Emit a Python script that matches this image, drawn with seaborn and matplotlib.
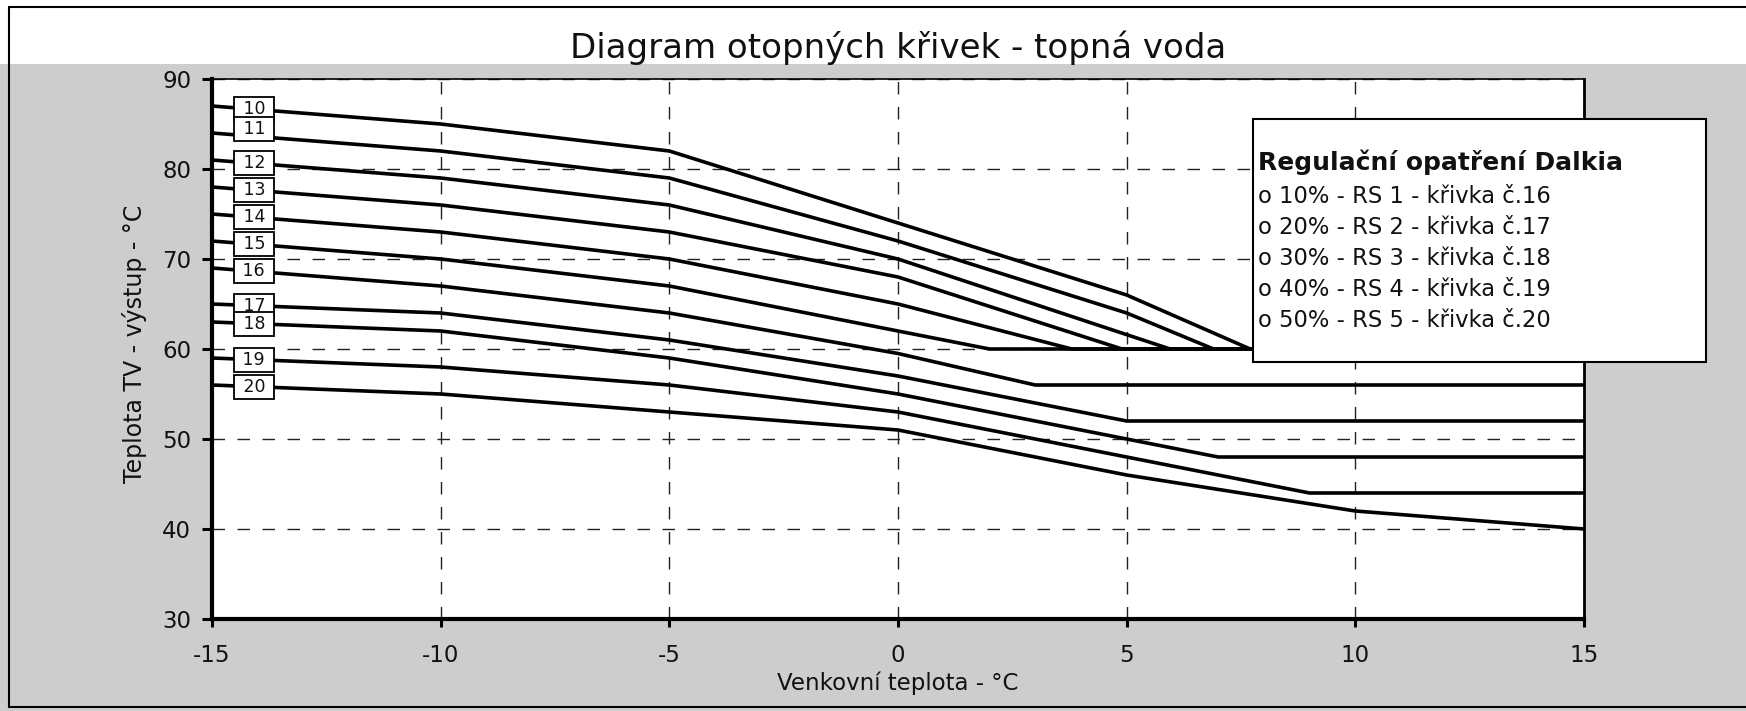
import numpy as np
import pandas as pd
import matplotlib
matplotlib.use("Agg")
import matplotlib.pyplot as plt
from matplotlib.patches import Rectangle
from matplotlib.lines import Line2D
import seaborn as sns

# heating curves 10..20, flow temperature vs outdoor temperature
curve_ids = [10, 11, 12, 13, 14, 15, 16, 17, 18, 19, 20]
outdoor_base = [-15, -10, -5, 0]
flow_base = [
    [87, 85, 82, 74],
    [84, 82, 79, 72],
    [81, 79, 76, 70],
    [78, 76, 73, 68],
    [75, 73, 70, 65],
    [72, 70, 67, 62],
    [69, 67, 64, 59.5],
    [65, 64, 61, 57],
    [63, 62, 59, 55],
    [59, 58, 56, 53],
    [56, 55, 53, 51],
]
# second part of each curve (breakpoints differ, flat part = minimum)
outdoor_tail = [
    [5, 7.7, 15],
    [5, 6.9, 15],
    [5.95, 15],
    [4.9, 15],
    [3.8, 15],
    [2, 15],
    [3, 15],
    [5, 15],
    [5, 7, 15],
    [5, 9, 15],
    [5, 10, 15],
]
flow_tail = [
    [66, 60, 60],
    [64, 60, 60],
    [60, 60],
    [60, 60],
    [60, 60],
    [60, 60],
    [56, 56],
    [52, 52],
    [50, 48, 48],
    [48, 44, 44],
    [46, 42, 40],
]
label_nudge = {11: 0.8}

tick_x = [-15, -10, -5, 0, 5, 10, 15]
tick_y = [30, 40, 50, 60, 70, 80, 90]

title = "Diagram otopných křivek - topná voda"
xlabel = "Venkovní teplota - °C"
ylabel = "Teplota TV - výstup - °C"
legend_title = "Regulační opatření Dalkia"
legend_items = [
    "o 10% - RS 1 - křivka č.16",
    "o 20% - RS 2 - křivka č.17",
    "o 30% - RS 3 - křivka č.18",
    "o 40% - RS 4 - křivka č.19",
    "o 50% - RS 5 - křivka č.20",
]

rows = []
for i, cid in enumerate(curve_ids):
    xs = outdoor_base + outdoor_tail[i]
    ys = flow_base[i] + flow_tail[i]
    for k, (x, y) in enumerate(zip(xs, ys)):
        rows.append({"curve": cid, "order": k, "outdoor": x, "flow": y})
df = pd.DataFrame(rows)

sns.set_theme(style="white")
plt.rcParams["font.family"] = ["DejaVu Sans"]
plt.rcParams["axes.unicode_minus"] = False
plt.rcParams["text.color"] = "#111111"

fig = plt.figure(figsize=(17.46, 7.11), dpi=100)
fig.patch.set_facecolor("white")
# scanned grey background around the plot
fig.add_artist(Rectangle((0, 0), 1, 0.91, transform=fig.transFigure,
                         facecolor="#cdcdcd", edgecolor="none", zorder=-10))

ax = fig.add_axes([0.1214, 0.1294, 0.7858, 0.7595])
ax.set_facecolor("white")

sns.lineplot(data=df, x="outdoor", y="flow", units="curve", estimator=None,
             sort=False, color="black", linewidth=2.6, legend=False, ax=ax)

ax.set_xlim(-15, 15)
ax.set_ylim(30, 90)
ax.set_xticks(tick_x)
ax.set_yticks(tick_y)
ax.grid(True, color="#222222", linestyle=(0, (9, 9)), linewidth=1.0)

for side, lw in [("left", 3), ("bottom", 3), ("top", 1.2), ("right", 2)]:
    ax.spines[side].set_visible(True)
    ax.spines[side].set_color("black")
    ax.spines[side].set_linewidth(lw)

ax.tick_params(axis="y", left=True, length=7, width=2.2, pad=8,
               labelsize=16.5, direction="out", colors="black", labelcolor="#111111")
ax.tick_params(axis="x", bottom=True, length=6, width=2.2, pad=12,
               labelsize=16.5, direction="out", colors="black", labelcolor="#111111")

ax.set_xlabel(xlabel, fontsize=16.5, color="#111111")
ax.xaxis.set_label_coords(0.5, -0.097)
ax.set_ylabel(ylabel, fontsize=17, color="#111111")
ax.yaxis.set_label_coords(-0.047, 0.51)

# curve number boxes near the left axis
lab_x = -14.08
for i, cid in enumerate(curve_ids):
    xs = outdoor_base + outdoor_tail[i]
    ys = flow_base[i] + flow_tail[i]
    y_lab = np.interp(lab_x, xs, ys) + label_nudge.get(cid, 0)
    ax.text(lab_x, y_lab, f" {cid} ", ha="center", va="center", fontsize=12.5,
            color="#111111", zorder=6,
            bbox=dict(boxstyle="square,pad=0.18", fc="white", ec="black", lw=1.3))

fig.text(0.5143, 0.918, title, ha="center", va="baseline", fontsize=24.5)

# legend box (text panel)
fig.add_artist(Rectangle((0.7176, 0.4909), 0.2595, 0.3417, transform=fig.transFigure,
                         facecolor="white", edgecolor="black", linewidth=1.5, zorder=5))
fig.text(0.7205, 0.761, legend_title, fontsize=18, fontweight="bold",
         va="baseline", zorder=6)
for i, item in enumerate(legend_items):
    fig.text(0.7205, 1 - (203 + 31 * i) / 711, item, fontsize=16.3,
             va="baseline", zorder=6)

# outer frame of the scan
for xs_, ys_ in [([0.005, 0.005], [0.005, 0.99]),
                 ([0.005, 1.0], [0.99, 0.99]),
                 ([0.005, 1.0], [0.005, 0.005])]:
    fig.add_artist(Line2D(xs_, ys_, transform=fig.transFigure, color="black", lw=1.5))

fig.savefig("out.png", dpi=100)
